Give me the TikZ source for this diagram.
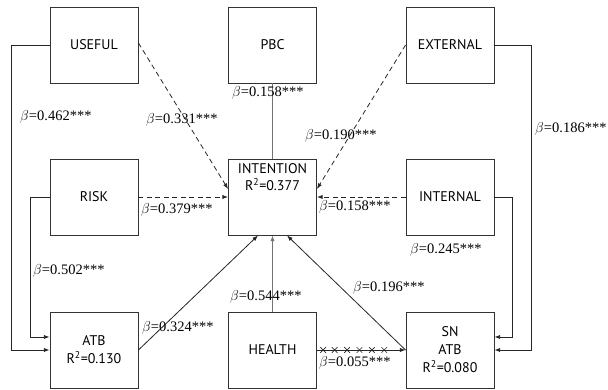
\documentclass[tikz,border=0pt]{standalone}
\usepackage{fontspec}
\setmainfont{Liberation Serif}
\newfontfamily\boxfont{PT Sans}
\usepackage{tikz}
\usetikzlibrary{arrows.meta,shapes.misc}

\begin{document}
\begin{tikzpicture}[
  x=1pt, y=-1pt,
  box/.style={rectangle, draw=black!80, line width=0.9pt, minimum width=88pt, minimum height=76pt, align=center, inner sep=2pt, font=\boxfont\fontsize{14}{18}\selectfont},
  boxtext/.style={align=center, inner sep=0pt, font=\boxfont\fontsize{14}{17}\selectfont},
  coef/.style={anchor=west, inner sep=0pt, font=\fontsize{14.5}{17}\selectfont},
  link/.style={line width=0.8pt, draw=black!85},
  hyp/.style={link, dash pattern=on 5pt off 3.5pt},
  grey/.style={line width=1pt, draw=black!55},
  xmark/.style={cross out, draw=black!85, minimum size=5pt, inner sep=0pt, line width=0.6pt},
  >={Latex[length=2mm]}
]
\useasboundingbox (0,0) rectangle (608,390);

\node[box] (useful)   at (94,45)    {USEFUL};
\node[box] (pbc)      at (272.5,45) {PBC};
\node[box] (external) at (450,45)   {EXTERNAL};
\node[box] (risk)     at (94,197)   {RISK};
\node[box] (int)      at (272.5,197) {};
\node[box] (internal) at (450,197)  {INTERNAL};
\node[box] (atb)      at (94,350)   {ATB\\R\textsuperscript{2}=0.130};
\node[box] (health)   at (272.5,350) {HEALTH};
\node[box] (sn)       at (450,350)  {SN\\ATB\\R\textsuperscript{2}=0.080};
\node[boxtext, anchor=north] (inttext) at ([yshift=-5pt]int.north) {INTENTION\\R\textsuperscript{2}=0.377};

% side paths to ATB and SN
\draw[link,->] (useful.west) -- ++(-38,0) |- (atb.west);
\draw[link,->] (risk.west) -- ++(-19,0) |- ([yshift=13pt]atb.west);
\draw[link,->] (external.east) -- ++(37,0) |- (sn.east);
\draw[link,->] (internal.east) -- ++(18,0) |- ([yshift=13pt]sn.east);

% paths into INTENTION
\draw[hyp,->] ([yshift=2pt]useful.east) -- ([yshift=8pt]int.west);
\draw[hyp,->] (external.west) -- ([yshift=8pt]int.east);
\draw[hyp,->] (risk.east) -- (int.west);
\draw[hyp,->] (internal.west) -- (int.east);
\draw[grey] (pbc.south) -- (int.north);
\draw[grey,->] (health.north) -- (int.south);
\draw[link,->] (atb.east) -- ([xshift=-14.5pt]int.south);
\draw[link,->] (sn.west) -- ([xshift=14.5pt]int.south);
\draw[link,->] (health.east) -- (sn.west)
  foreach \p in {0.07,0.2,0.34,0.48,0.62,0.76} {node[xmark, pos=\p] {}};

% coefficients
\node[coef] (c1)  at (20,117)  {$\beta$=0.462***};
\node[coef] (c2)  at (146,120) {$\beta$=0.331***};
\node[coef] (c3)  at (232,93)  {$\beta$=0.158***};
\node[coef] (c4)  at (305,136) {$\beta$=0.190***};
\node[coef] (c5)  at (535,129) {$\beta$=0.186***};
\node[coef] (c6)  at (141,210) {$\beta$=0.379***};
\node[coef] (c7)  at (319,207) {$\beta$=0.158***};
\node[coef] (c8)  at (33,271)  {$\beta$=0.502***};
\node[coef] (c9)  at (230,297) {$\beta$=0.544***};
\node[coef] (c10) at (142,328) {$\beta$=0.324***};
\node[coef] (c11) at (410,250) {$\beta$=0.245***};
\node[coef] (c12) at (353,288) {$\beta$=0.196***};
\node[coef] (c13) at (319,363) {$\beta$=0.055***};
\end{tikzpicture}
\end{document}
